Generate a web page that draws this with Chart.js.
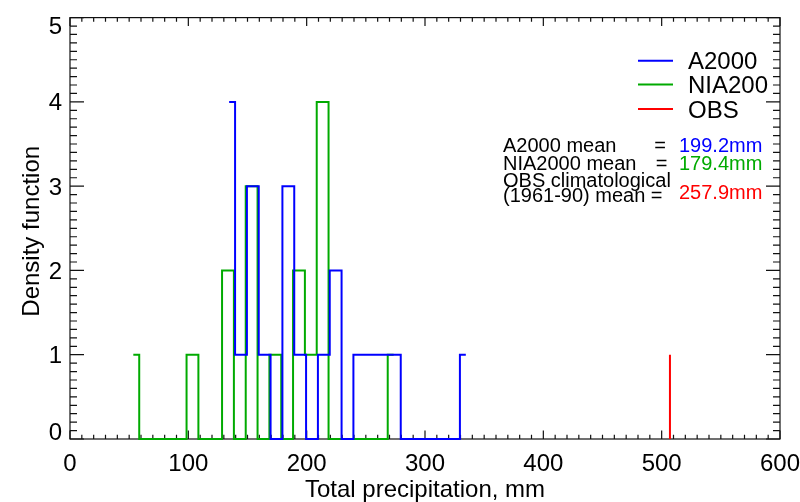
<!DOCTYPE html>
<html>
<head>
<meta charset="utf-8">
<script src="https://cdn.jsdelivr.net/npm/chart.js@4.4.1/dist/chart.umd.min.js"></script>
<style>
  html, body { margin: 0; padding: 0; background: #fff; }
  #wrap { width: 800px; height: 502px; position: relative; }
</style>
</head>
<body>
<div id="wrap"><canvas id="densityChart"></canvas></div>
<script>
// Histogram bin centres (mm) and counts
const a2000Bins = [134.5, 144.5, 154.5, 164.5, 174.5, 184.5, 194.5, 204.5, 214.5, 224.5, 234.5,
                   244.5, 254.5, 264.5, 274.5, 284.5, 294.5, 304.5, 314.5, 324.5, 334.5];
const a2000Counts = [4, 1, 3, 1, 0, 3, 1, 0, 1, 2, 0, 1, 1, 1, 1, 0, 0, 0, 0, 0, 1];

const nia200Bins = [53.5, 63.5, 73.5, 83.5, 93.5, 103.5, 113.5, 123.5, 133.5, 143.5, 153.5, 163.5,
                    173.5, 183.5, 193.5, 203.5, 213.5, 223.5, 233.5, 243.5, 253.5, 263.5, 273.5];
const nia200Counts = [1, 0, 0, 0, 0, 1, 0, 0, 2, 0, 3, 0, 1, 0, 2, 1, 4, 0, 0, 0, 0, 0, 1];

// OBS marker
const obsX = [507, 507];
const obsY = [0, 1];

// Axis ticks
const xTicks = [0, 100, 200, 300, 400, 500, 600];
const yTicks = [0, 1, 2, 3, 4, 5];
const xMinorStep = 10;
const yMinorStep = 0.1;

// Text block on the right
const meanLines = [
    { label: "A2000 mean", eq: "=", value: "199.2mm", color: "#0000ff" },
    { label: "NIA2000 mean", eq: "=", value: "179.4mm", color: "rgb(0,170,0)" }
];

const BLUE = "#0000ff";
const GREEN = "rgb(0,170,0)";
const RED = "#ff0000";
const FONT = '"Liberation Sans", Arial, Helvetica, sans-serif';

function toPoints(xs, ys) {
    return xs.map((x, i) => ({ x: x, y: ys[i] }));
}

// Draws the IDL-style box with inward ticks before the data
const framePlugin = {
    id: "frame",
    beforeDatasetsDraw(chart) {
        const ctx = chart.ctx;
        const area = chart.chartArea;
        const xs = chart.scales.x;
        const ys = chart.scales.y;
        ctx.save();
        ctx.strokeStyle = "#111";
        ctx.lineWidth = 1.2;
        ctx.strokeRect(area.left, area.top, area.right - area.left, area.bottom - area.top);

        ctx.beginPath();
        // x ticks, bottom and top
        for (let v = xTicks[0]; v <= xTicks[xTicks.length - 1] + 0.001; v += xMinorStep) {
            const px = xs.getPixelForValue(v);
            const major = xTicks.some(t => Math.abs(t - v) < 0.001);
            const len = major ? 8.4 : 4.2;
            ctx.moveTo(px, area.bottom);
            ctx.lineTo(px, area.bottom - len);
            ctx.moveTo(px, area.top);
            ctx.lineTo(px, area.top + len);
        }
        // y ticks, left and right
        for (let i = 0; i <= 50; i++) {
            const v = i * yMinorStep;
            const py = ys.getPixelForValue(v);
            const major = i % 10 === 0;
            const len = major ? 14 : 7;
            ctx.moveTo(area.left, py);
            ctx.lineTo(area.left + len, py);
            ctx.moveTo(area.right, py);
            ctx.lineTo(area.right - len, py);
        }
        ctx.stroke();
        ctx.restore();
    },
    afterDraw(chart) {
        const ctx = chart.ctx;
        const area = chart.chartArea;
        const xs = chart.scales.x;
        const ys = chart.scales.y;
        ctx.save();
        ctx.fillStyle = "#000";
        ctx.font = "24px " + FONT;

        // x tick labels
        ctx.textAlign = "center";
        ctx.textBaseline = "alphabetic";
        xTicks.forEach(t => {
            ctx.fillText(String(t), xs.getPixelForValue(t), 471);
        });

        // y tick labels (end labels nudged inward like the original)
        ctx.textAlign = "right";
        yTicks.forEach((t, i) => {
            let py = ys.getPixelForValue(t);
            if (i === 0) py -= 8;
            if (i === yTicks.length - 1) py += 7.5;
            ctx.fillText(String(t), 62, py + 8.6);
        });

        // axis titles
        ctx.textAlign = "center";
        ctx.fillText("Total precipitation, mm", (area.left + area.right) / 2, 497);
        ctx.save();
        ctx.translate(39, (area.top + area.bottom) / 2 + 3);
        ctx.rotate(-Math.PI / 2);
        ctx.fillText("Density function", 0, 0);
        ctx.restore();

        // legend
        const legendY = [60.7, 84.5, 109];
        ctx.textAlign = "left";
        chart.data.datasets.forEach((ds, i) => {
            ctx.strokeStyle = ds.borderColor;
            ctx.lineWidth = 2;
            ctx.beginPath();
            ctx.moveTo(638, legendY[i]);
            ctx.lineTo(673, legendY[i]);
            ctx.stroke();
            ctx.fillStyle = "#000";
            ctx.fillText(ds.label, 688, legendY[i] + 8.6);
        });

        // mean annotations
        ctx.font = "20px " + FONT;
        const baseY = [152, 169.5];
        meanLines.forEach((m, i) => {
            ctx.fillStyle = "#000";
            ctx.textAlign = "left";
            ctx.fillText(m.label, 503, baseY[i]);
            ctx.textAlign = "center";
            ctx.fillText(m.eq, 660 + i * 1.5, baseY[i]);
            ctx.textAlign = "left";
            ctx.fillStyle = m.color;
            ctx.fillText(m.value, 679, baseY[i]);
        });
        ctx.fillStyle = "#000";
        ctx.fillText("OBS climatological", 503, 187);
        ctx.fillText("(1961-90) mean =", 503, 202);
        ctx.fillStyle = RED;
        ctx.fillText("257.9mm", 679, 198.5);
        ctx.restore();
    }
};

const chart = new Chart(document.getElementById("densityChart"), {
    type: "line",
    data: {
        datasets: [
            {
                label: "A2000",
                data: toPoints(a2000Bins, a2000Counts),
                borderColor: BLUE,
                borderWidth: 2,
                stepped: "middle",
                pointRadius: 0,
                fill: false,
                clip: 4
            },
            {
                label: "NIA200",
                data: toPoints(nia200Bins, nia200Counts),
                borderColor: GREEN,
                borderWidth: 2,
                stepped: "middle",
                pointRadius: 0,
                fill: false,
                clip: 4
            },
            {
                label: "OBS",
                data: toPoints(obsX, obsY),
                borderColor: RED,
                borderWidth: 2,
                pointRadius: 0,
                fill: false,
                clip: 4
            }
        ]
    },
    options: {
        responsive: true,
        maintainAspectRatio: false,
        animation: false,
        layout: { padding: { left: 70, right: 20, top: 17.6, bottom: 63 } },
        plugins: {
            legend: { display: false },
            tooltip: { enabled: false }
        },
        scales: {
            x: { type: "linear", min: 0, max: 600, display: false },
            y: { type: "linear", min: 0, max: 5, display: false }
        }
    },
    plugins: [framePlugin]
});
</script>
</body>
</html>
